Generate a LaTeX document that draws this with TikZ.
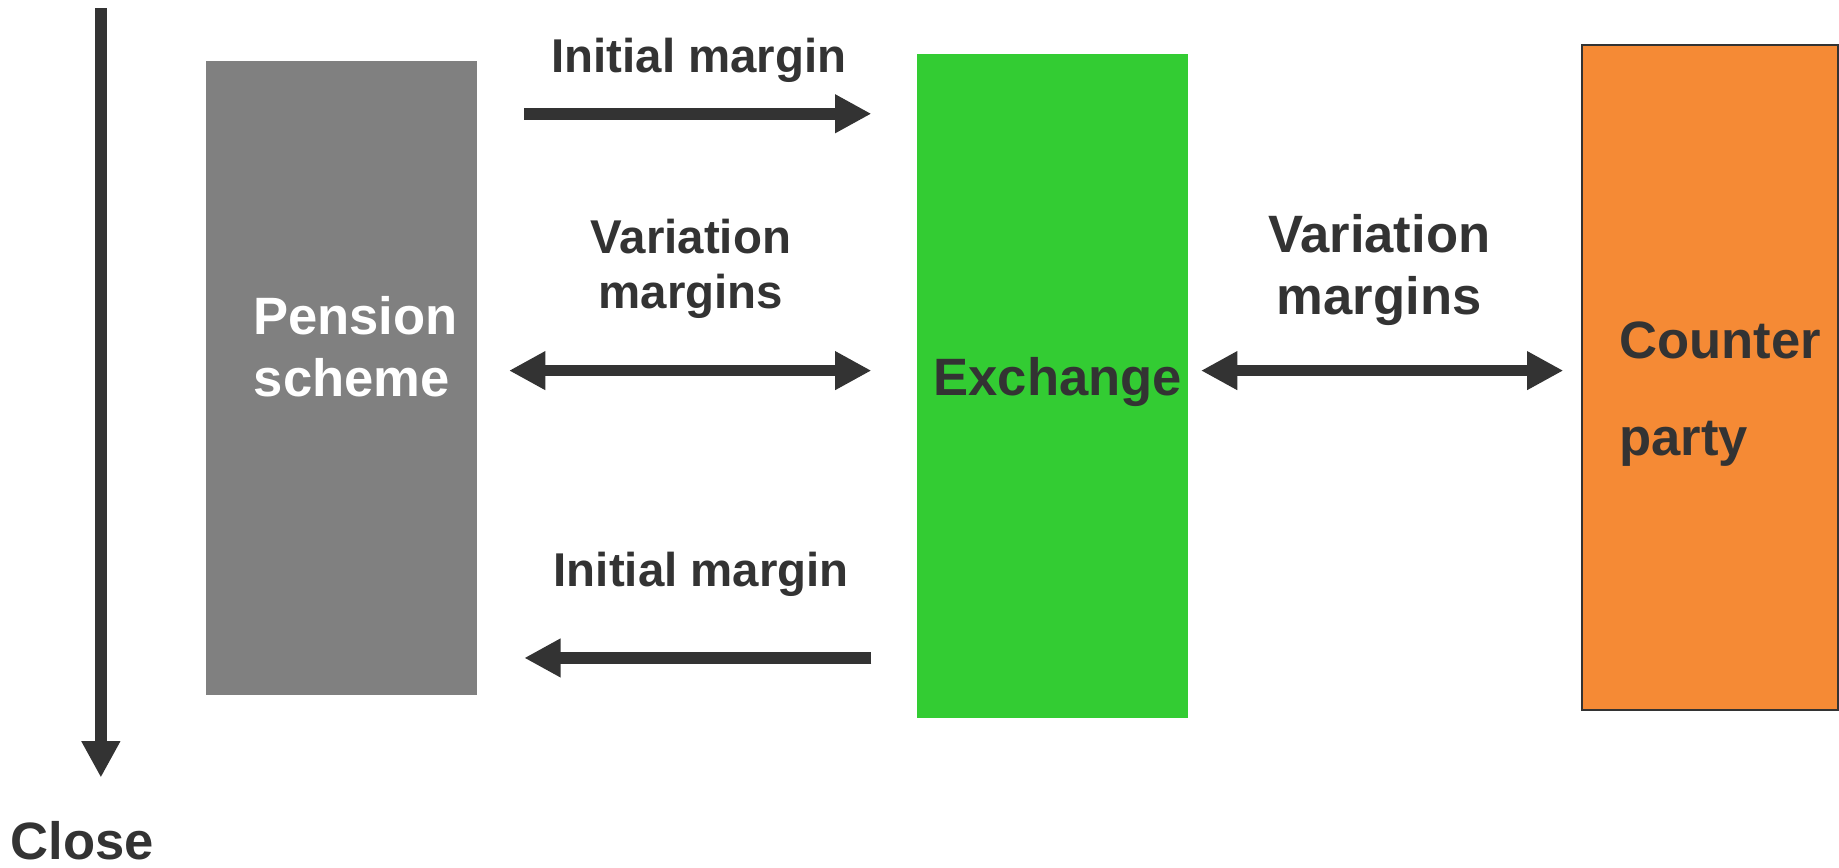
\documentclass[tikz,border=0pt]{standalone}
\usepackage{fontspec}
\setmainfont{Liberation Sans}
\usetikzlibrary{arrows.meta}
\definecolor{ink}{HTML}{333333}
\definecolor{psgray}{HTML}{808080}
\definecolor{exgreen}{HTML}{33CC33}
\definecolor{cporange}{HTML}{F58A35}
\begin{document}
\begin{tikzpicture}[x=0.01cm,y=-0.01cm,
  flow/.style={draw=ink, line width=0.1cm, -{Triangle[length=0.31cm,width=0.31cm]}},
  flowboth/.style={draw=ink, line width=0.1cm, {Triangle[length=0.31cm,width=0.31cm]}-{Triangle[length=0.31cm,width=0.31cm]}},
  block/.style={inner sep=0pt, outer sep=0pt, anchor=north west},
  big/.style={font=\bfseries\fontsize{12.75}{15}\selectfont, text=ink, inner sep=0pt, anchor=base},
  small/.style={font=\bfseries\fontsize{11.5}{13.7}\selectfont, text=ink, inner sep=0pt, anchor=base},
]
\useasboundingbox (0,0) rectangle (1568,740);

% blocks
\node[block, fill=psgray, minimum width=2.31cm, minimum height=5.40cm] (ps) at (176,52) {};
\node[block, fill=exgreen, minimum width=2.31cm, minimum height=5.66cm] (ex) at (782,46) {};
\node[block, fill=cporange, draw=ink, line width=0.5pt, minimum width=2.18cm, minimum height=5.67cm] (cp) at (1349,38) {};

% block texts
\node[big, text=white] (pst1) at (303,285) {Pension};
\node[big, text=white] (pst2) at (300,338) {scheme};
\node[big] (ext) at (902,337) {Exchange};
\node[big, anchor=base west] (cpt1) at (1380,306) {Counter};
\node[big, anchor=base west] (cpt2) at (1380,388) {party};

% time line
\coordinate (t0) at (86,7);
\coordinate (t1) at (86,663);
\draw[flow] (t0) -- (t1);
\node[big] (close) at (70,733) {Close};

% arrows between pension scheme and exchange
\coordinate (a1s) at (447,97);
\coordinate (a1e) at (743,97);
\draw[flow] (a1s) -- (a1e);
\node[small] (l1) at (596,62) {Initial margin};

\coordinate (a2s) at (434,316);
\coordinate (a2e) at (743,316);
\draw[flowboth] (a2s) -- (a2e);
\node[small] (l2a) at (589,216) {Variation};
\node[small] (l2b) at (589,263) {margins};

\coordinate (a4s) at (743,561);
\coordinate (a4e) at (447,561);
\draw[flow] (a4s) -- (a4e);
\node[small] (l4) at (598,500) {Initial margin};

% arrow between exchange and counterparty
\coordinate (a3s) at (1024,316);
\coordinate (a3e) at (1333,316);
\draw[flowboth] (a3s) -- (a3e);
\node[big] (l3a) at (1176,215) {Variation};
\node[big] (l3b) at (1176,268) {margins};
\end{tikzpicture}
\end{document}
